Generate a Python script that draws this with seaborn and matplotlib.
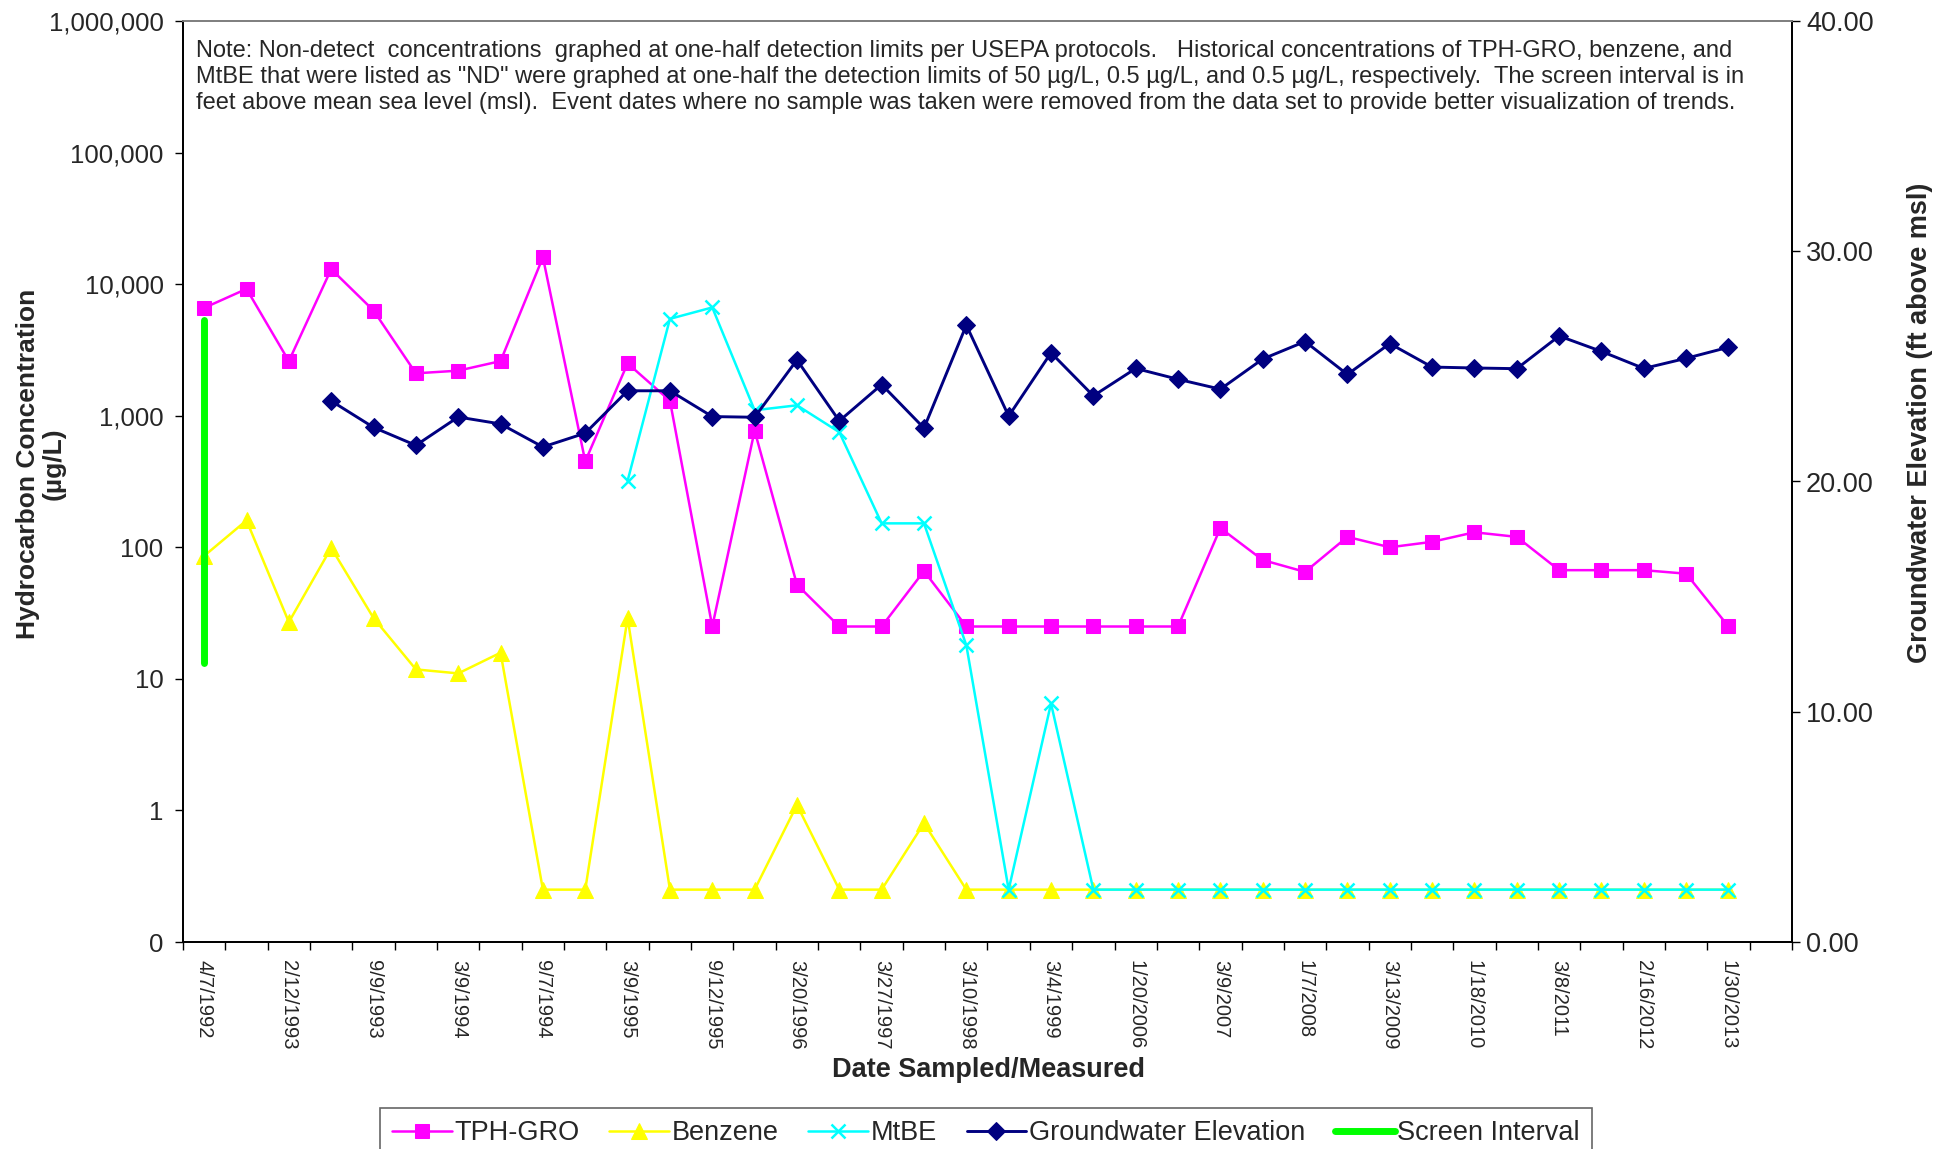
import numpy as np
import pandas as pd
import matplotlib
matplotlib.use("Agg")
import matplotlib.pyplot as plt
from matplotlib.ticker import FixedLocator
import seaborn as sns

# ---------------- data ----------------
tick_labels = ["4/7/1992", "2/12/1993", "9/9/1993", "3/9/1994", "9/7/1994", "3/9/1995",
               "9/12/1995", "3/20/1996", "3/27/1997", "3/10/1998", "3/4/1999", "1/20/2006",
               "3/9/2007", "1/7/2008", "3/13/2009", "1/18/2010", "3/8/2011", "2/16/2012",
               "1/30/2013"]
n_categories = 38

tph_gro = [6600, 9200, 2600, 13000, 6300, 2100, 2200, 2600, 16000, 450,
           2500, 1300, 25, 770, 52, 25, 25, 66, 25, 25,
           25, 25, 25, 25, 140, 80, 65, 120, 100, 110,
           130, 120, 67, 67, 67, 63, 25]
benzene = [86, 160, 27, 99, 29, 11.8, 11, 15.8, 0.25, 0.25,
           29, 0.25, 0.25, 0.25, 1.1, 0.25, 0.25, 0.8, 0.25, 0.25,
           0.25, 0.25, 0.25, 0.25, 0.25, 0.25, 0.25, 0.25, 0.25, 0.25,
           0.25, 0.25, 0.25, 0.25, 0.25, 0.25, 0.25]
mtbe = [np.nan] * 10 + [320, 5450, 6650, 1100, 1200, 750, 152, 152, 18, 0.25,
                        6.5, 0.25, 0.25, 0.25, 0.25, 0.25, 0.25, 0.25, 0.25, 0.25,
                        0.25, 0.25, 0.25, 0.25, 0.25, 0.25, 0.25]
gw_elev = [np.nan] * 3 + [23.5, 22.35, 21.57, 22.8, 22.5, 21.5, 22.1,
                          23.94, 23.94, 22.82, 22.79, 25.28, 22.63, 24.21, 22.32, 26.79, 22.84,
                          25.59, 23.72, 24.91, 24.44, 24.01, 25.32, 26.08, 24.65, 25.99, 24.97,
                          24.93, 24.90, 26.32, 25.65, 24.91, 25.35, 25.83]
screen_x = [0, 0]
screen_interval = [12.1, 27.0]

note = ("Note: Non-detect  concentrations  graphed at one-half detection limits per USEPA protocols.   "
        "Historical concentrations of TPH-GRO, benzene, and\n"
        "MtBE that were listed as \"ND\" were graphed at one-half the detection limits of 50 \u00b5g/L, "
        "0.5 \u00b5g/L, and 0.5 \u00b5g/L, respectively.  The screen interval is in\n"
        "feet above mean sea level (msl).  Event dates where no sample was taken were removed from "
        "the data set to provide better visualization of trends.")

idx = np.arange(len(tph_gro))
df = pd.DataFrame({"i": idx, "tph": tph_gro, "benz": benzene, "mtbe": mtbe, "gw": gw_elev})

# ---------------- style ----------------
sns.set_theme(style="white")
plt.rcParams["font.family"] = ["Liberation Sans", "DejaVu Sans"]

W, H = 1948, 1149
fig = plt.figure(figsize=(W / 100, H / 100), dpi=100)
L, R, T, B = 183, 1792, 21, 942
ax = fig.add_axes([L / W, 1 - B / H, (R - L) / W, (B - T) / H])
ax2 = ax.twinx()

lw = 1.8
ms = 10.5
sns.lineplot(data=df, x="i", y="tph", ax=ax, color="#FF00FF", marker="s", markersize=ms,
             markeredgecolor="#FF00FF", linewidth=lw, label="TPH-GRO", legend=False)
sns.lineplot(data=df, x="i", y="benz", ax=ax, color="#FFFF00", marker="^", markersize=ms + 1,
             markeredgecolor="#FFFF00", linewidth=lw, label="Benzene", legend=False)
sns.lineplot(data=df.dropna(subset=["mtbe"]), x="i", y="mtbe", ax=ax, color="#00FFFF", marker="x",
             markersize=ms, markeredgewidth=1.8, markeredgecolor="#00FFFF", linewidth=lw,
             label="MtBE", legend=False)
sns.lineplot(data=df.dropna(subset=["gw"]), x="i", y="gw", ax=ax2, color="#000080", marker="D",
             markersize=ms - 1, markeredgecolor="#000080", linewidth=2.1,
             label="Groundwater Elevation", legend=False)
sns.lineplot(x=screen_x, y=screen_interval, ax=ax2, color="#00FF00", linewidth=5,
             label="Screen Interval", legend=False, estimator=None, sort=False)

# ---------------- axes ----------------
ax.set_yscale("log")
ax.set_ylim(0.1, 1e6)
ax.set_xlim(-0.5, n_categories - 0.5)
ax2.set_ylim(0, 40)

yt = [0.1, 1, 10, 100, 1000, 1e4, 1e5, 1e6]
ax.yaxis.set_major_locator(FixedLocator(yt))
ax.set_yticklabels(["0", "1", "10", "100", "1,000", "10,000", "100,000", "1,000,000"])
ax.yaxis.set_minor_locator(FixedLocator([]))
ax2.set_yticks([0, 10, 20, 30, 40])
ax2.set_yticklabels([f"{v:.2f}" for v in [0, 10, 20, 30, 40]])

ax.set_xticks(np.arange(0, 37, 2))
ax.set_xticklabels(tick_labels, rotation=270, fontsize=14.5)
ax.xaxis.set_minor_locator(FixedLocator(np.arange(-0.5, n_categories, 1)))
ax.tick_params(axis="x", which="major", length=0, pad=13)
ax.tick_params(axis="x", which="minor", length=6, width=1, color="black", direction="out", bottom=True)
ax.tick_params(axis="y", which="major", length=6, width=1, color="black", direction="out",
               labelsize=18.5, pad=8, left=True)
ax2.tick_params(axis="y", which="major", length=6, width=1, color="black", direction="out",
                labelsize=19.5, pad=4, right=True)
ax.set_xlabel("")
ax.set_ylabel("")
ax2.set_ylabel("")

for a in (ax, ax2):
    for s in ["left", "bottom", "right"]:
        a.spines[s].set_color("black")
        a.spines[s].set_linewidth(1.3)
    a.spines["top"].set_color("#808080")
    a.spines["top"].set_linewidth(1.3)
ax.grid(False)
ax2.grid(False)

# ---------------- texts ----------------
fig.text(196 / W, 1 - 40 / H, note, ha="left", va="top", fontsize=17, linespacing=1.25)
fig.text(989 / W, 1 - 1070 / H, "Date Sampled/Measured", ha="center", va="center",
         fontsize=19.5, fontweight="bold")
fig.text(41 / W, 1 - 464 / H, "Hydrocarbon Concentration\n(\u00b5g/L)", ha="center", va="center",
         rotation=90, fontsize=19, fontweight="bold", multialignment="center",
         linespacing=1.1)
fig.text(1920 / W, 1 - 423 / H, "Groundwater Elevation (ft above msl)", ha="center", va="center",
         rotation=90, fontsize=19.5, fontweight="bold")

# ---------------- legend ----------------
h1, l1 = ax.get_legend_handles_labels()
h2, l2 = ax2.get_legend_handles_labels()
leg = fig.legend(h1 + h2, l1 + l2, loc="upper center", bbox_to_anchor=(986 / W, 1 - 1108 / H),
                 ncol=5, frameon=True, fancybox=False, fontsize=19.5, handlelength=2.2,
                 handletextpad=0.1, columnspacing=1.1, borderpad=0.45, borderaxespad=0)
leg.get_frame().set_edgecolor("#404040")
leg.get_frame().set_linewidth(1.2)

fig.savefig("out.png", dpi=100, facecolor="white")
